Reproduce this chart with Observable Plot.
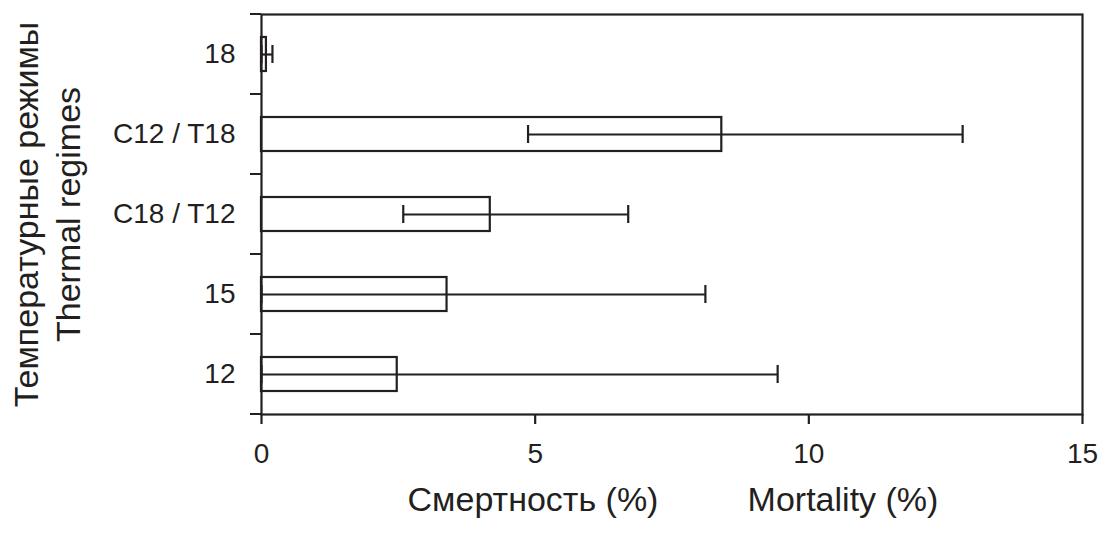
<!DOCTYPE html>
<html><head><meta charset="utf-8">
<script src="https://cdn.jsdelivr.net/npm/d3@7"></script>
<script src="https://cdn.jsdelivr.net/npm/@observablehq/plot@0.6"></script>
<style>body{margin:0;background:#fff}</style>
</head><body><div id="chart"></div>
<script>
// Data
const regimes = ["18", "C12 / T18", "C18 / T12", "15", "12"];
const mortality = [0.09, 8.41, 4.18, 3.39, 2.48];
const errLow = [0, 4.87, 2.59, 0, 0];
const errHigh = [0.2, 12.81, 6.70, 8.11, 9.43];
const xTicks = [0, 5, 10, 15];
const yTitle = "Температурные режимы\nThermal regimes";
const xTitleRu = "Смертность (%)";
const xTitleEn = "Mortality (%)";

const ink = "#231f20";
const rows = regimes.map((r, i) => ({regime: r, value: mortality[i], lo: errLow[i], hi: errHigh[i]}));

// tick marks at band boundaries on the left of the y axis
function yBoundaryTicks(index, scales, values, dims) {
  const y = scales.y;
  const n = regimes.length;
  const bw = (y && y.bandwidth) ? y.bandwidth() : (dims.height - dims.marginTop - dims.marginBottom) / n;
  const edges = regimes.map(c => y(c)).concat([y(regimes[n - 1]) + bw]);
  const g = d3.create("svg:g").attr("stroke", ink).attr("stroke-width", 2);
  for (const e of edges) {
    g.append("line").attr("x1", dims.marginLeft - 11).attr("x2", dims.marginLeft)
      .attr("y1", e).attr("y2", e);
  }
  return g.node();
}

const chart = Plot.plot({
  width: 1100,
  height: 534,
  marginLeft: 261,
  marginRight: 18,
  marginTop: 14,
  marginBottom: 120,
  style: {fontFamily: "'Liberation Sans', Arial, sans-serif", fontSize: "28px", color: ink, background: "white"},
  x: {domain: [0, 15], label: null},
  y: {domain: regimes, padding: 0, label: null},
  marks: [
    Plot.barX(rows, {y: "regime", x: "value", fill: "white", stroke: ink, strokeWidth: 2.2, insetTop: 23, insetBottom: 23}),
    Plot.ruleY(rows, {y: "regime", x1: "lo", x2: "hi", stroke: ink, strokeWidth: 2.2}),
    Plot.tickX(rows, {y: "regime", x: "lo", stroke: ink, strokeWidth: 2.2, insetTop: 31, insetBottom: 31}),
    Plot.tickX(rows, {y: "regime", x: "hi", stroke: ink, strokeWidth: 2.2, insetTop: 31, insetBottom: 31}),
    Plot.frame({stroke: ink, strokeWidth: 2.2}),
    Plot.axisY({tickSize: 0, tickPadding: 26, fontSize: 28, label: null}),
    yBoundaryTicks,
    Plot.axisX({ticks: xTicks, tickSize: 10, tickPadding: 19, fontSize: 28, strokeWidth: 2.2, label: null}),
    Plot.text([yTitle], {frameAnchor: "left", rotate: -90, dx: -216, textAnchor: "middle", lineAnchor: "middle", lineHeight: 1.25, fontSize: 34, fill: ink}),
    Plot.text([xTitleRu], {frameAnchor: "bottom", dx: -139, dy: 96, lineAnchor: "bottom", fontSize: 34, fill: ink}),
    Plot.text([xTitleEn], {frameAnchor: "bottom", dx: 171, dy: 96, lineAnchor: "bottom", fontSize: 34, fill: ink})
  ]
});
document.getElementById("chart").appendChild(chart);
</script>
</body></html>
